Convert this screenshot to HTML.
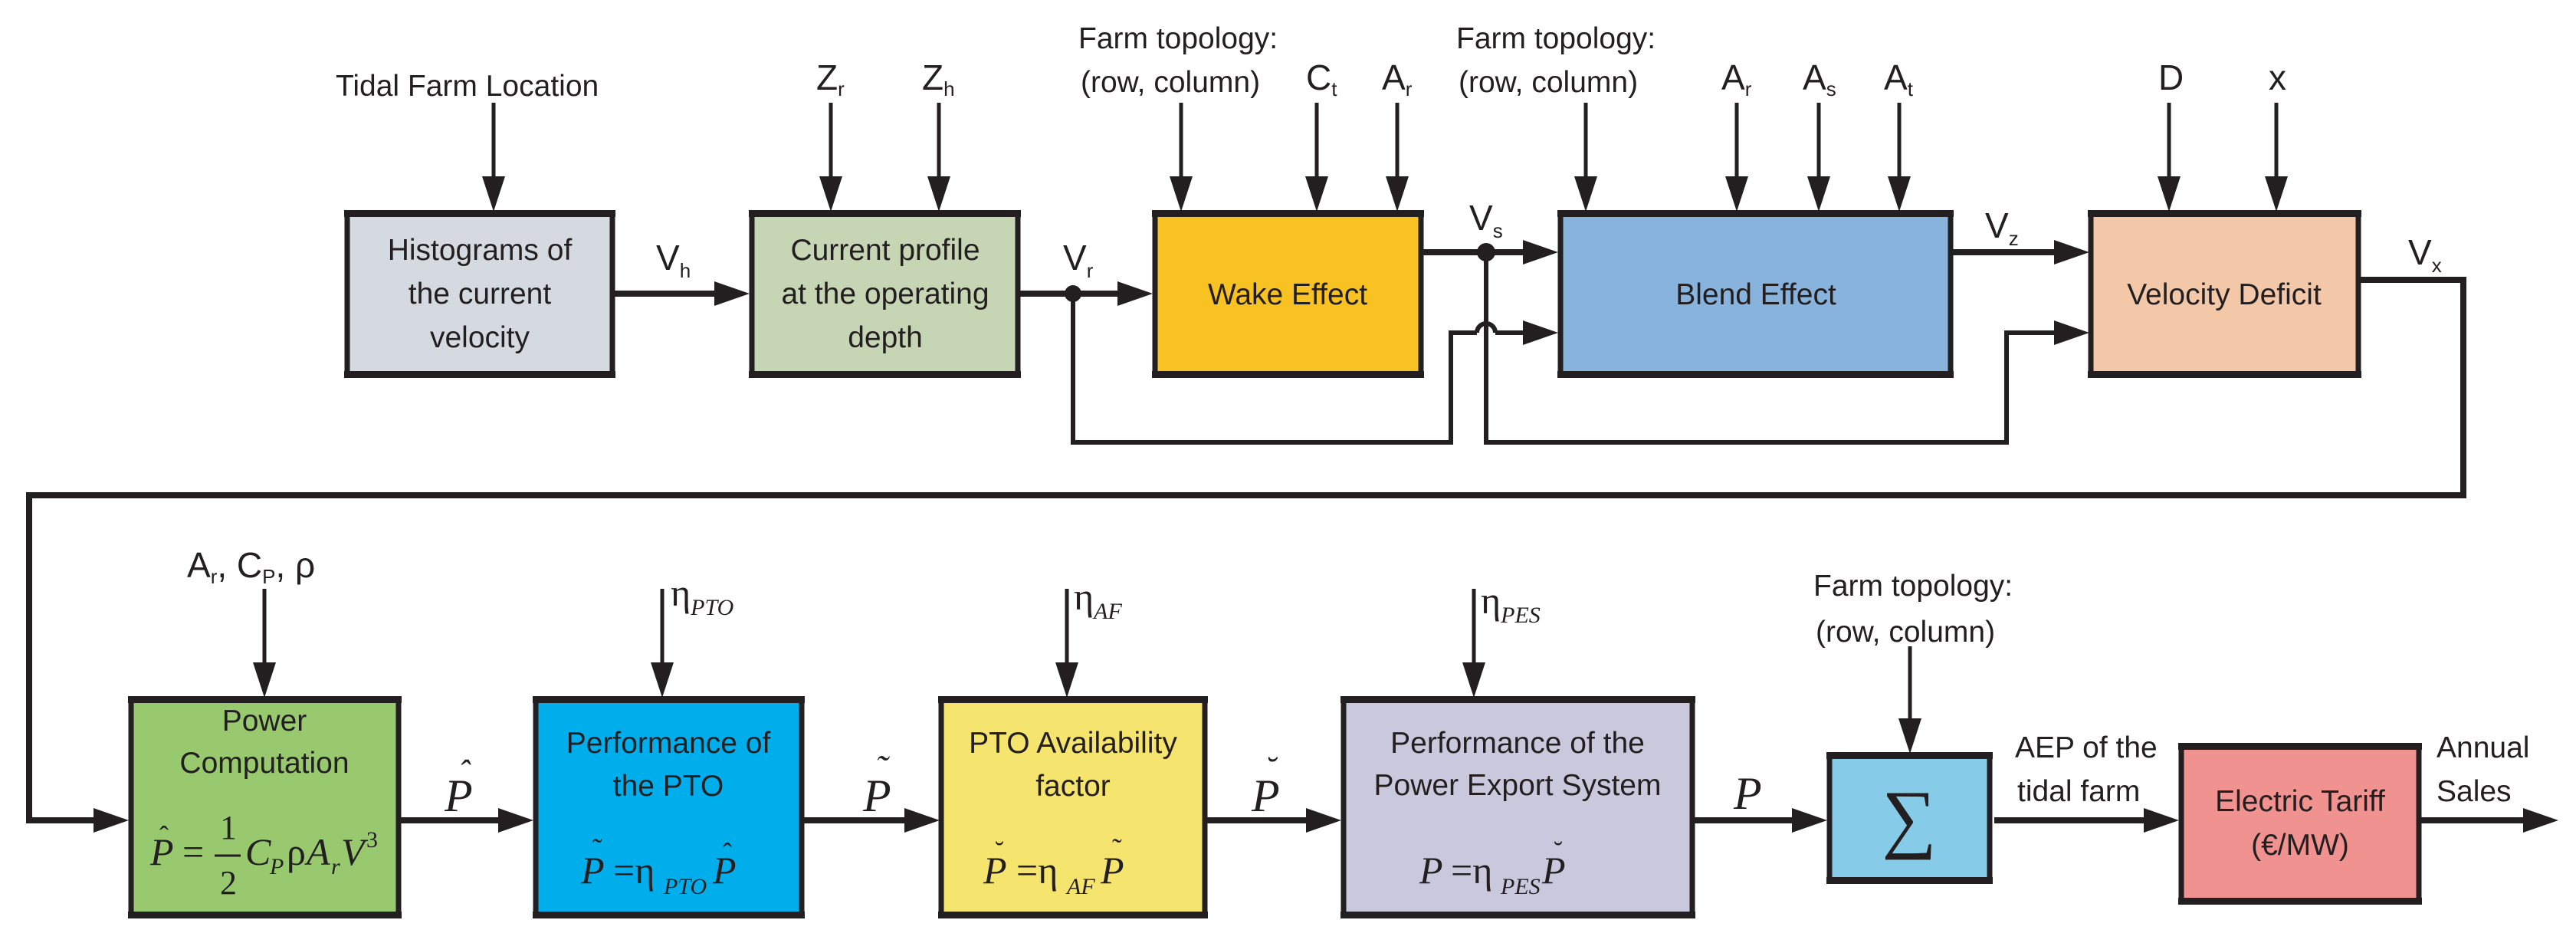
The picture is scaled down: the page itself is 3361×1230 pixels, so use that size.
<!DOCTYPE html>
<html><head><meta charset="utf-8"><style>
html,body{margin:0;padding:0;background:#fff;}
svg{display:block;}
text{fill:#231f20;}
.sf, .sf text{font-family:"Liberation Sans",sans-serif;}
.t{font-size:39px;font-family:"Liberation Sans",sans-serif;}
.m, .m text{font-family:"Liberation Serif",serif;font-style:italic;}
.f, .f text{font-family:"Liberation Serif",serif;}
.i{font-style:italic;}
</style></head><body>
<svg width="3361" height="1230" viewBox="0 0 3361 1230" xmlns="http://www.w3.org/2000/svg">
<g stroke="#231f20" stroke-width="7">
<rect x="453" y="278" width="346" height="211" fill="#d5dae1"/>
<rect x="981" y="278" width="347" height="211" fill="#c6d5b4"/>
<rect x="1507" y="278" width="347" height="211" fill="#f8c322"/>
<rect x="2036" y="278" width="509" height="211" fill="#87b3dd"/>
<rect x="2728" y="278" width="349" height="211" fill="#f3c8a8"/>
<rect x="171" y="912" width="349" height="282" fill="#99c96f"/>
<rect x="699" y="912" width="347" height="282" fill="#00aeeb"/>
<rect x="1228" y="912" width="344" height="282" fill="#f5e46e"/>
<rect x="1753" y="912" width="455" height="282" fill="#c9c8dc"/>
<rect x="2387" y="985" width="209" height="164" fill="#86cbe8"/>
<rect x="2846" y="973" width="310" height="203" fill="#f0928f"/>
</g>
<g fill="#231f20">
<rect x="449" y="274" width="354" height="9"/><rect x="449" y="484" width="354" height="9"/>
<rect x="977" y="274" width="355" height="9"/><rect x="977" y="484" width="355" height="9"/>
<rect x="1503" y="274" width="355" height="9"/><rect x="1503" y="484" width="355" height="9"/>
<rect x="2032" y="274" width="517" height="9"/><rect x="2032" y="484" width="517" height="9"/>
<rect x="2724" y="274" width="357" height="9"/><rect x="2724" y="484" width="357" height="9"/>
<rect x="167" y="908" width="357" height="9"/><rect x="167" y="1189" width="357" height="9"/>
<rect x="695" y="908" width="355" height="9"/><rect x="695" y="1189" width="355" height="9"/>
<rect x="1224" y="908" width="352" height="9"/><rect x="1224" y="1189" width="352" height="9"/>
<rect x="1749" y="908" width="463" height="9"/><rect x="1749" y="1189" width="463" height="9"/>
<rect x="2383" y="981" width="217" height="9"/><rect x="2383" y="1144" width="217" height="9"/>
<rect x="2842" y="969" width="318" height="9"/><rect x="2842" y="1171" width="318" height="9"/>
</g>
<g stroke="#231f20" stroke-width="5" fill="none">
<line x1="644" y1="134" x2="644" y2="235"/>
<line x1="1084" y1="134" x2="1084" y2="235"/>
<line x1="1225" y1="134" x2="1225" y2="235"/>
<line x1="1541" y1="134" x2="1541" y2="235"/>
<line x1="1718" y1="134" x2="1718" y2="235"/>
<line x1="1823" y1="134" x2="1823" y2="235"/>
<line x1="2069" y1="134" x2="2069" y2="235"/>
<line x1="2266" y1="134" x2="2266" y2="235"/>
<line x1="2373" y1="134" x2="2373" y2="235"/>
<line x1="2478" y1="134" x2="2478" y2="235"/>
<line x1="2830" y1="134" x2="2830" y2="235"/>
<line x1="2970" y1="134" x2="2970" y2="235"/>
<line x1="345" y1="768" x2="345" y2="869"/>
<line x1="864" y1="768" x2="864" y2="869"/>
<line x1="1392" y1="768" x2="1392" y2="869"/>
<line x1="1923" y1="768" x2="1923" y2="869"/>
<line x1="2492" y1="843" x2="2492" y2="942"/>
</g>
<g fill="#231f20">
<polygon points="629,230 659,230 644,276"/>
<polygon points="1069,230 1099,230 1084,276"/>
<polygon points="1210,230 1240,230 1225,276"/>
<polygon points="1526,230 1556,230 1541,276"/>
<polygon points="1703,230 1733,230 1718,276"/>
<polygon points="1808,230 1838,230 1823,276"/>
<polygon points="2054,230 2084,230 2069,276"/>
<polygon points="2251,230 2281,230 2266,276"/>
<polygon points="2358,230 2388,230 2373,276"/>
<polygon points="2463,230 2493,230 2478,276"/>
<polygon points="2815,230 2845,230 2830,276"/>
<polygon points="2955,230 2985,230 2970,276"/>
<polygon points="330,864 360,864 345,910"/>
<polygon points="849,864 879,864 864,910"/>
<polygon points="1377,864 1407,864 1392,910"/>
<polygon points="1908,864 1938,864 1923,910"/>
<polygon points="2477,937 2507,937 2492,983"/>
</g>
<g stroke="#231f20" stroke-width="8" fill="none">
<line x1="802" y1="383" x2="940" y2="383"/>
<line x1="1331" y1="383" x2="1466" y2="383"/>
<line x1="1857" y1="329" x2="1995" y2="329"/>
<line x1="2548" y1="329" x2="2688" y2="329"/>
<polyline points="3079,365 3214,365 3214,646 38,646 38,1070 130,1070"/>
<line x1="523" y1="1070" x2="658" y2="1070"/>
<line x1="1049" y1="1070" x2="1188" y2="1070"/>
<line x1="1575" y1="1070" x2="1712" y2="1070"/>
<line x1="2211" y1="1070" x2="2345" y2="1070"/>
<line x1="2602" y1="1070" x2="2805" y2="1070"/>
<line x1="3159" y1="1070" x2="3300" y2="1070"/>
</g>
<g stroke="#231f20" stroke-width="6" fill="none">
<polyline points="1400,383 1400,577 1893,577 1893,434 1927,434"/>
<path d="M1927,434 A12,12 0 0 1 1951,434"/>
<line x1="1951" y1="434" x2="1995" y2="434"/>
<polyline points="1939,329 1939,577 2618,577 2618,434 2688,434"/>
</g>
<g fill="#231f20">
<circle cx="1400" cy="383" r="11"/>
<circle cx="1939" cy="329" r="12"/>
<polygon points="932,367 978,383 932,399"/>
<polygon points="1458,367 1504,383 1458,399"/>
<polygon points="1987,313 2033,329 1987,345"/>
<polygon points="1987,418 2033,434 1987,450"/>
<polygon points="2680,313 2726,329 2680,345"/>
<polygon points="2680,418 2726,434 2680,450"/>
<polygon points="122,1054 168,1070 122,1086"/>
<polygon points="650,1054 696,1070 650,1086"/>
<polygon points="1180,1054 1226,1070 1180,1086"/>
<polygon points="1704,1054 1750,1070 1704,1086"/>
<polygon points="2338,1054 2384,1070 2338,1086"/>
<polygon points="2797,1054 2843,1070 2797,1086"/>
<polygon points="3292,1054 3338,1070 3292,1086"/>
</g>
<g class="sf">
<text class="t" x="438" y="125">Tidal Farm Location</text>
<text x="1065" y="117" font-size="46">Z<tspan font-size="26" dy="8">r</tspan></text>
<text x="1203" y="117" font-size="46">Z<tspan font-size="26" dy="8">h</tspan></text>
<text class="t" x="1407" y="63">Farm topology:</text>
<text class="t" x="1410" y="120">(row, column)</text>
<text x="1704" y="117" font-size="46">C<tspan font-size="26" dy="8">t</tspan></text>
<text x="1803" y="117" font-size="46">A<tspan font-size="26" dy="8">r</tspan></text>
<text class="t" x="1900" y="63">Farm topology:</text>
<text class="t" x="1903" y="120">(row, column)</text>
<text x="2246" y="117" font-size="46">A<tspan font-size="26" dy="8">r</tspan></text>
<text x="2352" y="117" font-size="46">A<tspan font-size="26" dy="8">s</tspan></text>
<text x="2458" y="117" font-size="46">A<tspan font-size="26" dy="8">t</tspan></text>
<text x="2816" y="117" font-size="46">D</text>
<text x="2960" y="117" font-size="46">x</text>
<text x="856" y="352" font-size="46">V<tspan font-size="26" dy="10">h</tspan></text>
<text x="1387" y="352" font-size="46">V<tspan font-size="26" dy="10">r</tspan></text>
<text x="1917" y="300" font-size="46">V<tspan font-size="26" dy="10">s</tspan></text>
<text x="2590" y="310" font-size="46">V<tspan font-size="26" dy="10">z</tspan></text>
<text x="3142" y="345" font-size="46">V<tspan font-size="26" dy="10">x</tspan></text>
<g class="t" text-anchor="middle">
<text x="626" y="339">Histograms of</text>
<text x="626" y="396">the current</text>
<text x="626" y="453">velocity</text>
<text x="1155" y="339">Current profile</text>
<text x="1155" y="396">at the operating</text>
<text x="1155" y="453">depth</text>
<text x="1680" y="397">Wake Effect</text>
<text x="2291" y="397">Blend Effect</text>
<text x="2902" y="397">Velocity Deficit</text>
</g>
<text x="244" y="753" font-size="46">A<tspan font-size="26" dy="8">r</tspan><tspan dy="-8">, C</tspan><tspan font-size="26" dy="8">P</tspan><tspan dy="-8">, ρ</tspan></text>
<text class="t" x="2366" y="777">Farm topology:</text>
<text class="t" x="2369" y="837">(row, column)</text>
<text class="t" x="2629" y="988">AEP of the</text>
<text class="t" x="2632" y="1045">tidal farm</text>
<text class="t" x="3179" y="988">Annual</text>
<text class="t" x="3179" y="1045">Sales</text>
<g class="t" text-anchor="middle">
<text x="345" y="953">Power</text>
<text x="345" y="1008">Computation</text>
<text x="872" y="982">Performance of</text>
<text x="872" y="1038">the PTO</text>
<text x="1400" y="982">PTO Availability</text>
<text x="1400" y="1038">factor</text>
<text x="1980" y="982">Performance of the</text>
<text x="1980" y="1037">Power Export System</text>
<text x="3001" y="1058">Electric Tariff</text>
<text x="3001" y="1115">(€/MW)</text>
</g>
</g>
<g class="f">
<text x="875" y="790" font-size="50">η<tspan class="i" font-size="30" dy="12">PTO</tspan></text>
<text x="1401" y="795" font-size="50">η<tspan class="i" font-size="30" dy="12">AF</tspan></text>
<text x="1932" y="800" font-size="50">η<tspan class="i" font-size="30" dy="12">PES</tspan></text>
</g>
<g class="m" font-size="60">
<text x="580" y="1058">P</text><text x="598" y="1022" font-size="44" font-style="normal">ˆ</text>
<text x="1126" y="1058">P</text><text x="1142" y="1018" font-size="48" font-style="normal">˜</text>
<text x="1633" y="1058">P</text><text x="1650" y="1018" font-size="44" font-style="normal">˘</text>
<text x="2262" y="1055">P</text>
</g>
<text x="2491" y="1100" font-size="100" text-anchor="middle" font-family="Liberation Serif" fill="#231f20">∑</text>
<g class="f" font-size="50">
<text x="196" y="1128" class="i">P</text><text x="208" y="1102" font-size="36">ˆ</text>
<text x="238" y="1128">=</text>
<text x="287" y="1094" font-size="44">1</text>
<line x1="280" y1="1116" x2="314" y2="1116" stroke="#231f20" stroke-width="3"/>
<text x="287" y="1166" font-size="44">2</text>
<text x="320" y="1128" class="i">C</text>
<text x="352" y="1140" font-size="30" class="i">P</text>
<text x="374" y="1128">ρ</text>
<text x="400" y="1128" class="i">A</text>
<text x="432" y="1140" font-size="30" class="i">r</text>
<text x="445" y="1128" class="i">V</text>
<text x="478" y="1105" font-size="30">3</text>

<text x="758" y="1152" class="i">P</text><text x="773" y="1120" font-size="38">˜</text>
<text x="800" y="1152">=η</text>
<text x="866" y="1166" font-size="30" class="i">PTO</text>
<text x="930" y="1152" class="i">P</text><text x="943" y="1124" font-size="36">ˆ</text>

<text x="1283" y="1152" class="i">P</text><text x="1298" y="1122" font-size="36">˘</text>
<text x="1326" y="1152">=η</text>
<text x="1392" y="1166" font-size="30" class="i">AF</text>
<text x="1436" y="1152" class="i">P</text><text x="1451" y="1120" font-size="38">˜</text>

<text x="1852" y="1152" class="i">P</text>
<text x="1893" y="1152">=η</text>
<text x="1958" y="1166" font-size="30" class="i">PES</text>
<text x="2012" y="1152" class="i">P</text><text x="2027" y="1122" font-size="36">˘</text>
</g>
</svg>
</body></html>
